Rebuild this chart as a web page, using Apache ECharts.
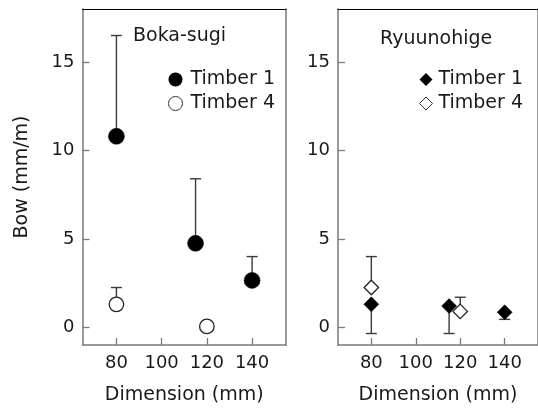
<!DOCTYPE html>
<html>
<head>
<meta charset="utf-8">
<script src="https://cdn.jsdelivr.net/npm/echarts@6.0.0/dist/echarts.min.js"></script>
<style>
html,body{margin:0;padding:0;background:#fff;}
#chart{width:538px;height:410px;}
</style>
</head>
<body>
<div id="chart"></div>
<script>
// ---- data ----
const xTicks = [80, 100, 120, 140];
const yTicks = [0, 5, 10, 15];
const panelTitles = ['Boka-sugi', 'Ryuunohige'];
const seriesNames = ['Timber 1', 'Timber 4'];

// Boka-sugi
const bokaT1X = [80, 115, 140];
const bokaT1Y = [10.8, 4.75, 2.65];
const bokaT1Lo = [10.8, 4.75, 2.65];
const bokaT1Hi = [16.5, 8.4, 4.0];

const bokaT4X = [80, 120];
const bokaT4Y = [1.3, 0.05];
const bokaT4Lo = [1.3, 0.05];
const bokaT4Hi = [2.25, 0.05];

// Ryuunohige
const ryuT1X = [80, 115, 140];
const ryuT1Y = [1.3, 1.2, 0.85];
const ryuT1Lo = [-0.35, -0.35, 0.45];
const ryuT1Hi = [1.3, 1.2, 0.85];

const ryuT4X = [80, 120];
const ryuT4Y = [2.25, 0.9];
const ryuT4Lo = [2.25, 0.9];
const ryuT4Hi = [4.0, 1.7];

// ---- styling ----
const FONT = 'DejaVu Sans';
const TXT = '#1a1a1a';
const AXC = '#7a7a7a';
const ERR = '#3a3a3a';

const chart = echarts.init(document.getElementById('chart'), null, {renderer: 'canvas'});

function pts(xs, ys) { return xs.map((x, i) => [x, ys[i]]); }

function errSeries(gi, xs, ys, lo, hi) {
  return {
    type: 'custom',
    xAxisIndex: gi * 2, yAxisIndex: gi * 2,
    data: xs.map((x, i) => [x, ys[i], lo[i], hi[i]]),
    z: 2,
    silent: true,
    renderItem: function (params, api) {
      const x = api.value(0), y = api.value(1), l = api.value(2), h = api.value(3);
      const children = [];
      const pl = api.coord([x, l]), ph = api.coord([x, h]);
      const st = {stroke: ERR, lineWidth: 1.4};
      if (h !== l) {
        children.push({type: 'line', shape: {x1: pl[0], y1: pl[1], x2: ph[0], y2: ph[1]}, style: st});
      }
      const cw = 5.5;
      if (h > y) children.push({type: 'line', shape: {x1: ph[0] - cw, y1: ph[1], x2: ph[0] + cw, y2: ph[1]}, style: st});
      if (l < y) children.push({type: 'line', shape: {x1: pl[0] - cw, y1: pl[1], x2: pl[0] + cw, y2: pl[1]}, style: st});
      return {type: 'group', children: children};
    }
  };
}

function scatter(gi, name, xs, ys, symbol, size, filled) {
  return {
    type: 'scatter', name: name,
    xAxisIndex: gi * 2, yAxisIndex: gi * 2,
    data: pts(xs, ys),
    symbol: symbol, symbolSize: size,
    z: 5,
    itemStyle: filled ? {color: '#000', borderColor: '#000', borderWidth: 0.5, opacity: 1}
                      : {color: '#fff', borderColor: '#222', borderWidth: 1.3, opacity: 1}
  };
}

const grids = [
  {left: 82.5, top: 9, width: 203.5, height: 338.7},
  {left: 338, top: 9, width: 202, height: 338.7}
];

const xAxes = [], yAxes = [];
grids.forEach((g, gi) => {
  xAxes.push({
    type: 'value', gridIndex: gi, min: 65, max: 155, position: 'bottom',
    name: 'Dimension (mm)', nameLocation: 'middle', nameGap: 41,
    nameTextStyle: {fontFamily: FONT, fontSize: 19, color: TXT},
    axisLine: {show: true, onZero: false, lineStyle: {color: AXC, width: 1.5}},
    axisTick: {show: true, inside: true, length: 7, customValues: xTicks, lineStyle: {color: AXC, width: 1.3}},
    axisLabel: {show: true, customValues: xTicks, margin: 9, fontFamily: FONT, fontSize: 18, color: TXT},
    splitLine: {show: false}
  });
  xAxes.push({
    type: 'value', gridIndex: gi, min: 65, max: 155, position: 'top',
    axisLine: {show: true, onZero: false, lineStyle: {color: '#000', width: 1}},
    axisTick: {show: false}, axisLabel: {show: false}, splitLine: {show: false}
  });
  yAxes.push({
    type: 'value', gridIndex: gi, min: -1, max: 18, position: 'left',
    name: gi === 0 ? 'Bow (mm/m)' : '', nameLocation: 'middle', nameGap: 51,
    nameTextStyle: {fontFamily: FONT, fontSize: 19, color: TXT},
    axisLine: {show: true, onZero: false, lineStyle: {color: AXC, width: 1.5}},
    axisTick: {show: true, inside: true, length: 7, customValues: yTicks, lineStyle: {color: AXC, width: 1.3}},
    axisLabel: {show: true, customValues: yTicks, margin: 8, fontFamily: FONT, fontSize: 18, color: TXT},
    splitLine: {show: false}
  });
  yAxes.push({
    type: 'value', gridIndex: gi, min: -1, max: 18, position: 'right',
    axisLine: {show: true, onZero: false, lineStyle: {color: AXC, width: 1.5}},
    axisTick: {show: false}, axisLabel: {show: false}, splitLine: {show: false}
  });
});

const option = {
  backgroundColor: '#fff',
  animation: false,
  grid: grids,
  xAxis: xAxes,
  yAxis: yAxes,
  title: [
    {text: panelTitles[0], left: 133, top: 27, padding: 0,
     textStyle: {fontFamily: FONT, fontSize: 19, fontWeight: 'normal', color: TXT}},
    {text: panelTitles[1], left: 380, top: 30, padding: 0,
     textStyle: {fontFamily: FONT, fontSize: 19, fontWeight: 'normal', color: TXT}}
  ],
  legend: [
    {
      left: 168, top: 70, orient: 'vertical', itemGap: 5, itemWidth: 14, itemHeight: 14, padding: 0,
      textStyle: {fontFamily: FONT, fontSize: 19, color: TXT, padding: [0, 0, 0, 3]},
      selectedMode: false,
      data: [
        {name: seriesNames[0], icon: 'circle', itemStyle: {color: '#000', borderColor: '#000', borderWidth: 0}},
        {name: seriesNames[1], icon: 'circle', itemStyle: {color: '#fff', borderColor: '#333', borderWidth: 1}}
      ]
    },
    {
      left: 419, top: 70, orient: 'vertical', itemGap: 5, itemWidth: 13, itemHeight: 13, padding: 0,
      textStyle: {fontFamily: FONT, fontSize: 19, color: TXT, padding: [0, 0, 0, 1]},
      selectedMode: false,
      data: [
        {name: seriesNames[0], icon: 'diamond', itemStyle: {color: '#000', borderColor: '#000', borderWidth: 0}},
        {name: seriesNames[1], icon: 'diamond', itemStyle: {color: '#fff', borderColor: '#333', borderWidth: 1}}
      ]
    }
  ],
  series: [
    errSeries(0, bokaT1X, bokaT1Y, bokaT1Lo, bokaT1Hi),
    errSeries(0, bokaT4X, bokaT4Y, bokaT4Lo, bokaT4Hi),
    errSeries(1, ryuT1X, ryuT1Y, ryuT1Lo, ryuT1Hi),
    errSeries(1, ryuT4X, ryuT4Y, ryuT4Lo, ryuT4Hi),
    scatter(0, seriesNames[0], bokaT1X, bokaT1Y, 'circle', 16, true),
    scatter(0, seriesNames[1], bokaT4X, bokaT4Y, 'circle', 14.5, false),
    scatter(1, seriesNames[0], ryuT1X, ryuT1Y, 'diamond', 15, true),
    scatter(1, seriesNames[1], ryuT4X, ryuT4Y, 'diamond', 14.5, false)
  ]
};
chart.setOption(option);
</script>
</body>
</html>
